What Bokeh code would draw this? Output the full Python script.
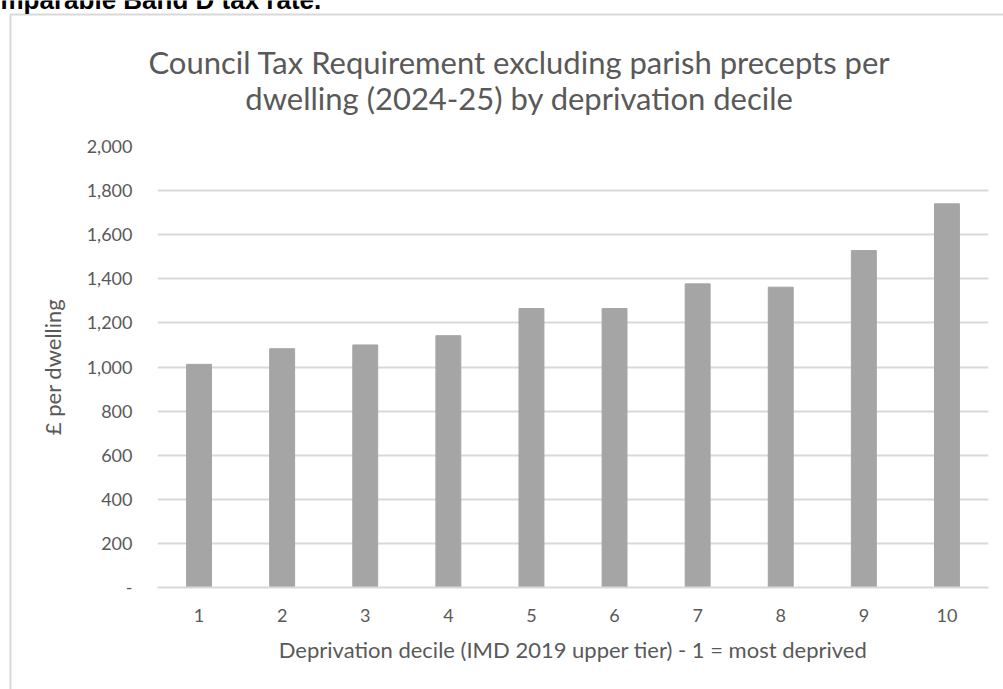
from bokeh.plotting import figure
from bokeh.models import Range1d, FactorRange, ColumnDataSource, FixedTicker, CustomJSTickFormatter
from bokeh.core.properties import value
from bokeh.embed import file_html
from bokeh.resources import INLINE

# Council Tax Requirement excluding parish precepts per dwelling, 2024-25
deciles = ["1", "2", "3", "4", "5", "6", "7", "8", "9", "10"]
per_dwelling = [1012, 1083, 1100, 1142, 1265, 1265, 1377, 1362, 1528, 1740]
y_ticks = [0, 200, 400, 600, 800, 1000, 1200, 1400, 1600, 1800, 2000]

title_lines = ["Council Tax Requirement excluding parish precepts per",
               "dwelling (2024-25) by deprivation decile"]
x_title = "Deprivation decile (IMD 2019 upper tier) - 1 = most deprived"
y_title = "£ per dwelling"
heading_tail = "mparable Band D tax rate."

FONT = "Lato"
TEXT = "#595959"
GRID = "#d9d9d9"
BAR = "#a5a5a5"

W, H = 1003, 689
FL, FR, FT, FB = 157, 988, 146, 587  # plot frame edges in page pixels

# --- page layer: chart border, title and the heading line above the chart ---
bg = figure(width=W, height=H, x_range=Range1d(0, W), y_range=Range1d(H, 0),
            x_axis_type=None, y_axis_type=None,
            min_border_left=0, min_border_right=0, min_border_top=0, min_border_bottom=0,
            output_backend="svg", toolbar_location=None)
bg.outline_line_color = None
bg.grid.visible = False
bg.line(x=[10, 10, W + 10], y=[H + 10, 14, 14], line_color=GRID, line_width=2)
bg.text(x=[519, 519], y=[61, 97], text=title_lines, text_align="center",
        text_baseline="middle", text_font=value(FONT), text_font_size="31px",
        text_color=TEXT)
bg.text(x=[0], y=[-1], text=[heading_tail], text_align="left", text_baseline="alphabetic",
        text_font=value("Liberation Sans"), text_font_size="26px",
        text_font_style="bold", text_color="black")

# --- bar chart layer, laid over the page layer ---
p = figure(width=W, height=H, x_range=FactorRange(*deciles), y_range=Range1d(0, 2000),
           output_backend="svg", toolbar_location=None,
           min_border_left=FL, min_border_right=W - FR,
           min_border_top=FT, min_border_bottom=H - FB)
p.outline_line_color = None
p.background_fill_alpha = 0
p.border_fill_alpha = 0
p.styles = {"position": "absolute", "top": "0px", "left": "0px"}

src = ColumnDataSource(dict(x=deciles, top=per_dwelling))
p.vbar(x="x", top="top", width=0.3, source=src, fill_color=BAR, line_color=BAR)

p.xgrid.grid_line_color = None
p.ygrid.grid_line_color = GRID
p.ygrid.grid_line_width = 2
p.ygrid.ticker = FixedTicker(ticks=y_ticks)

ya = p.yaxis[0]
ya.ticker = FixedTicker(ticks=y_ticks)
ya.formatter = CustomJSTickFormatter(code="""
    if (tick == 0) { return "-"; }
    return tick.toString().replace(/\\B(?=(\\d{3})+(?!\\d))/g, ",");
""")
ya.axis_line_color = None
ya.major_tick_line_color = None
ya.minor_tick_line_color = None
ya.major_tick_out = 0
ya.major_label_standoff = 25
ya.major_label_text_font = FONT
ya.major_label_text_font_size = "18px"
ya.major_label_text_color = TEXT
ya.axis_label = y_title
ya.axis_label_text_font = FONT
ya.axis_label_text_font_size = "22px"
ya.axis_label_text_font_style = "normal"
ya.axis_label_text_color = TEXT
ya.axis_label_standoff = 18

xa = p.xaxis[0]
xa.axis_line_color = GRID
xa.axis_line_width = 2
xa.major_tick_line_color = None
xa.minor_tick_line_color = None
xa.major_tick_out = 0
xa.major_label_standoff = 21
xa.major_label_text_font = FONT
xa.major_label_text_font_size = "18px"
xa.major_label_text_color = TEXT
xa.axis_label = x_title
xa.axis_label_text_font = FONT
xa.axis_label_text_font_size = "22px"
xa.axis_label_text_font_style = "normal"
xa.axis_label_text_color = TEXT
xa.axis_label_standoff = 11

open("out.html", "w").write(file_html([bg, p], INLINE))
